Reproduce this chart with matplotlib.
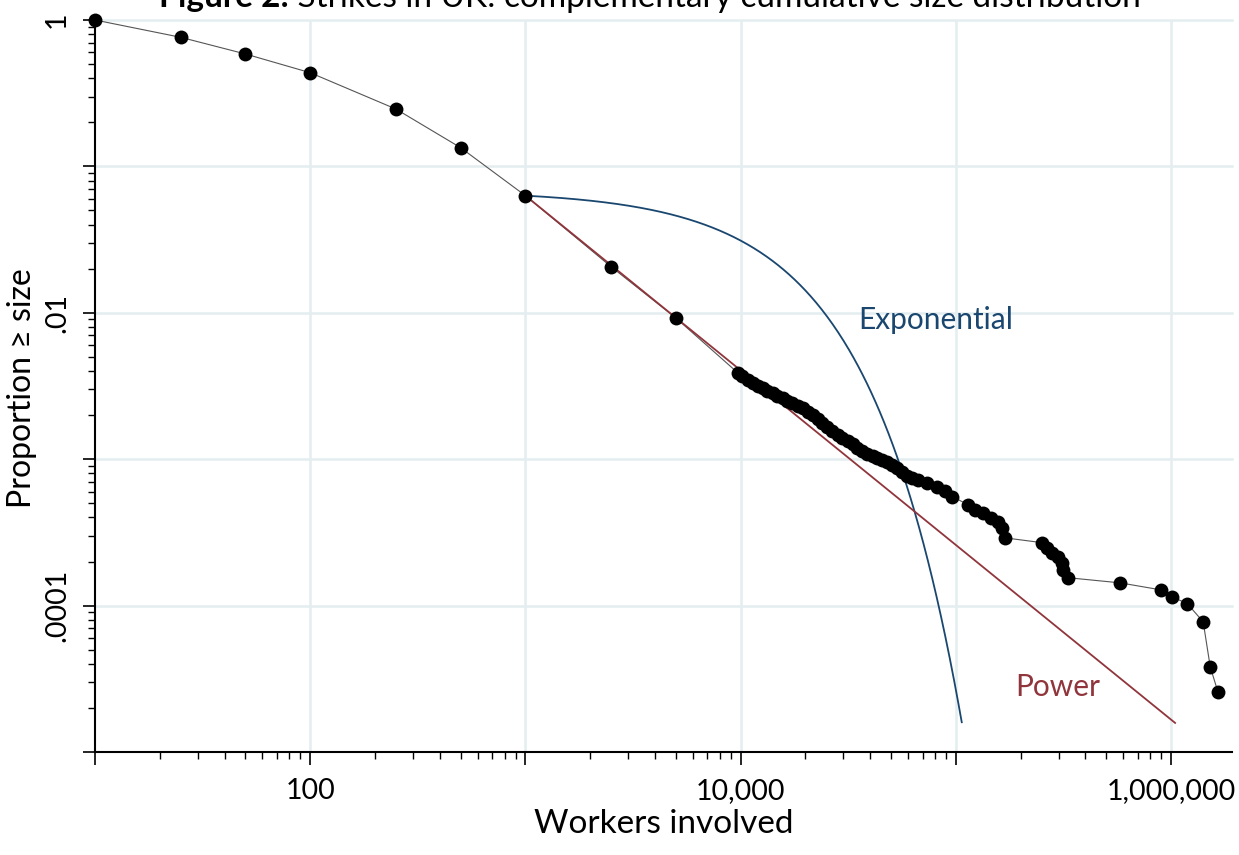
import numpy as np
import matplotlib
matplotlib.use("Agg")
import matplotlib.pyplot as plt
from matplotlib.ticker import LogLocator, NullFormatter, FixedLocator, FixedFormatter

plt.rcParams['font.family'] = ['Lato', 'DejaVu Sans']

# ---------------- data ----------------
workers = [10, 25, 50, 100, 250, 500, 1000, 2500, 5000,
           9700, 10200, 10800, 11400, 12000, 12650, 13300, 14100, 14800, 15700,
           16500, 17400, 18400, 19400, 20500, 21600, 22800, 24000, 25300, 26700,
           28200, 29700, 31400, 33100, 34900, 36800, 38800, 41000, 43200, 45600,
           48100, 50700, 53500, 56500, 59600, 62800, 67000, 73800, 82100, 89400,
           96300, 114000, 123000, 133000, 145000, 157000, 164000, 170000,
           252000, 266000, 280000, 299000, 312000, 315000, 333000,
           580000, 899000, 1010000, 1190000, 1410000, 1520000, 1650000]
proportion = [1.0, 0.762, 0.586, 0.4365, 0.2466, 0.1342, 0.0631, 0.02065, 0.00922,
              0.00389, 0.00368, 0.003485, 0.003298, 0.003172, 0.00305, 0.002933, 0.002819, 0.002711, 0.002606,
              0.002506, 0.002409, 0.002316, 0.002227, 0.002107, 0.001994, 0.001873, 0.001758, 0.001664, 0.001563,
              0.001468, 0.001389, 0.001325, 0.001264, 0.001196, 0.001141, 0.001089, 0.001055, 0.001022, 0.000991,
              0.000953, 0.000908, 0.000867, 0.00082, 0.000764, 0.000741, 0.000723, 0.000687, 0.000645, 0.000602,
              0.000556, 0.000488, 0.000451, 0.00043, 0.000398, 0.000374, 0.00034, 0.00029,
              0.000269, 0.000248, 0.000229, 0.000215, 0.000196, 0.000176, 0.000155,
              0.000143, 0.000128, 0.000115, 0.000103, 0.0000775, 0.0000382, 0.0000258]

# fitted models (parameters)
fit_xmin = 1000
fit_p0 = 0.0631
power_alpha = 1.193
power_xmax = 1.044e6
exp_lambda = 7.85e-5
exp_xmax = 1.065e5

x_ticks = [10, 100, 1000, 10000, 100000, 1000000]
x_ticklabels = ["", "100", "", "10,000", "", "1,000,000"]
y_ticks = [1e-5, 1e-4, 1e-3, 1e-2, 1e-1, 1]
y_ticklabels = ["", ".0001", "", ".01", "", "1"]

title_bold = "Figure 2:"
title_rest = " Strikes in UK: complementary cumulative size distribution"

# ---------------- figure ----------------
W, H = 1239, 855
fig = plt.figure(figsize=(W / 100, H / 100), dpi=100)
ax = fig.add_axes([95 / W, 1 - 752 / H, (1232 - 95) / W, (752 - 20) / H])
ax.set_xscale('log')
ax.set_yscale('log')
ax.set_xlim(10, 1.919e6)
ax.set_ylim(1e-5, 1)

grid_c = '#e4edf0'
for gx in [100, 1000, 10000, 100000, 1000000]:
    ax.axvline(gx, color=grid_c, lw=1.8, zorder=0)
for gy in [1, 0.1, 0.01, 0.001, 0.0001]:
    ax.axhline(gy, color=grid_c, lw=1.8, zorder=0, clip_on=False)

navy = '#1a476f'
maroon = '#90353b'

xe = np.geomspace(fit_xmin, exp_xmax, 400)
ax.plot(xe, fit_p0 * np.exp(-exp_lambda * (xe - fit_xmin)), color=navy, lw=1.3, zorder=3)
xp = np.geomspace(fit_xmin, power_xmax, 50)
ax.plot(xp, fit_p0 * (xp / fit_xmin) ** (-power_alpha), color=maroon, lw=1.3, zorder=3)

ax.plot(workers, proportion, color='#555555', lw=0.8, zorder=2)
ax.plot(workers, proportion, 'o', color='black', ms=10, mew=0, zorder=4, clip_on=False)

ax.text(8.04e4, 0.00896, "Exponential", color=navy, fontsize=21.5, ha='center', va='center')
ax.text(2.99e5, 2.78e-5, "Power", color=maroon, fontsize=21.5, ha='center', va='center')

# axes styling
for s in ['top', 'right']:
    ax.spines[s].set_visible(False)
for s in ['left', 'bottom']:
    ax.spines[s].set_linewidth(1.5)

ax.xaxis.set_major_locator(FixedLocator(x_ticks))
ax.xaxis.set_major_formatter(FixedFormatter(x_ticklabels))
ax.xaxis.set_minor_locator(LogLocator(base=10, subs=np.arange(2, 10), numticks=20))
ax.xaxis.set_minor_formatter(NullFormatter())
ax.yaxis.set_major_locator(FixedLocator(y_ticks))
ax.yaxis.set_major_formatter(FixedFormatter(y_ticklabels))
ax.yaxis.set_minor_locator(LogLocator(base=10, subs=np.arange(2, 10), numticks=20))
ax.yaxis.set_minor_formatter(NullFormatter())

ax.tick_params(axis='both', which='major', length=9, width=1.2, labelsize=20.5)
ax.tick_params(axis='both', which='minor', length=5, width=1.0)
ax.tick_params(axis='x', which='major', pad=10)
ax.tick_params(axis='y', which='major', pad=9)
for lab in ax.get_yticklabels():
    lab.set_rotation(90)
    lab.set_va('center')
    lab.set_ha('right')

ax.set_xlabel("Workers involved", fontsize=24, labelpad=3)
fig.text(22 / W, 1 - 388 / H, "Proportion \u2265 size", rotation=90, fontsize=23,
         ha='center', va='center')

# title in two parts (cut off at the top edge, as in the reference)
ty = 1 - 7 / H
t1 = fig.text(0, ty, title_bold, fontsize=24, fontweight='bold', va='baseline', ha='left')
t2 = fig.text(0, ty, title_rest, fontsize=24, va='baseline', ha='left')
fig.canvas.draw()
r = fig.canvas.get_renderer()
w1 = t1.get_window_extent(r).width
w2 = t2.get_window_extent(r).width
cx = 650
x0 = cx - (w1 + w2) / 2
t1.set_x(x0 / W)
t2.set_x((x0 + w1) / W)

fig.savefig("out.png", dpi=100)
